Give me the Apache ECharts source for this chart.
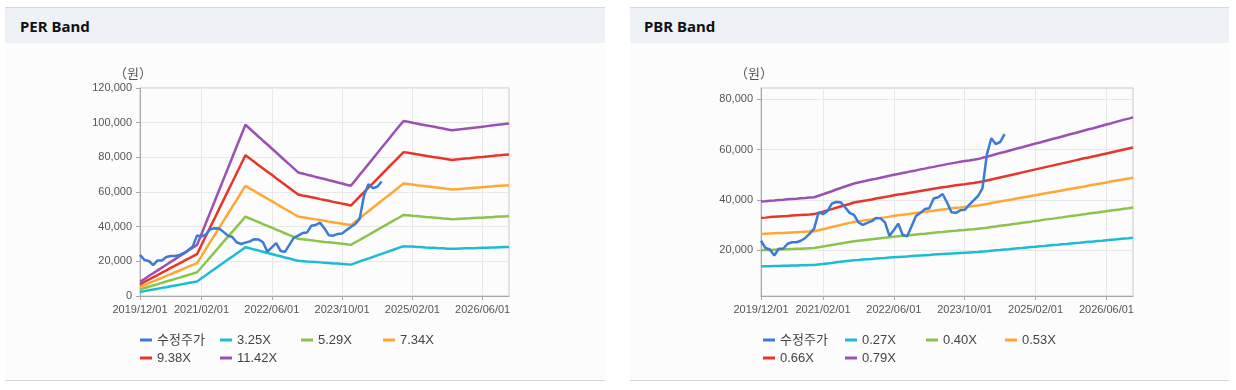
<!DOCTYPE html>
<html><head><meta charset="utf-8">
<script src="https://cdn.jsdelivr.net/npm/echarts@6/dist/echarts.min.js"></script>
<style>
html,body{margin:0;padding:0;background:#fff;width:1236px;height:390px;overflow:hidden}
.panel{position:absolute;top:7px;height:374px;box-sizing:border-box;border-top:1px solid #d6d6d6;border-bottom:1px solid #d6d6d6;background:#fcfcfc}
.hd{height:35px;background:#eef2f7;font-family:'Noto Sans',sans-serif;font-weight:bold;font-size:15px;line-height:36px;color:#111}
#c{position:absolute;left:0;top:0;width:1236px;height:390px}
</style></head>
<body>
<div class="panel" style="left:5px;width:600px"><div class="hd" style="padding-left:15px">PER Band</div></div>
<div class="panel" style="left:630px;width:599px"><div class="hd" style="padding-left:14px">PBR Band</div></div>
<div id="c"></div>
<script>
const categories = [
'2019/12/01',
'2020/01/01','2020/02/01','2020/03/01','2020/04/01','2020/05/01','2020/06/01','2020/07/01','2020/08/01','2020/09/01','2020/10/01','2020/11/01','2020/12/01',
'2021/01/01','2021/02/01','2021/03/01','2021/04/01','2021/05/01','2021/06/01','2021/07/01','2021/08/01','2021/09/01','2021/10/01','2021/11/01','2021/12/01',
'2022/01/01','2022/02/01','2022/03/01','2022/04/01','2022/05/01','2022/06/01','2022/07/01','2022/08/01','2022/09/01','2022/10/01','2022/11/01','2022/12/01',
'2023/01/01','2023/02/01','2023/03/01','2023/04/01','2023/05/01','2023/06/01','2023/07/01','2023/08/01','2023/09/01','2023/10/01','2023/11/01','2023/12/01',
'2024/01/01','2024/02/01','2024/03/01','2024/04/01','2024/05/01','2024/06/01','2024/07/01','2024/08/01','2024/09/01','2024/10/01','2024/11/01','2024/12/01',
'2025/01/01','2025/02/01','2025/03/01','2025/04/01','2025/05/01','2025/06/01','2025/07/01','2025/08/01','2025/09/01','2025/10/01','2025/11/01','2025/12/01',
'2026/01/01','2026/02/01','2026/03/01','2026/04/01','2026/05/01','2026/06/01','2026/07/01','2026/08/01','2026/09/01','2026/10/01','2026/11/01','2026/12/01'];
const tickLabels = ['2019/12/01','2021/02/01','2022/06/01','2023/10/01','2025/02/01','2026/06/01'];
const perTicks = [0,20000,40000,60000,80000,100000,120000];
const pbrTicks = [20000,40000,60000,80000];

const perNames = ['수정주가','3.25X','5.29X','7.34X','9.38X','11.42X'];
const pbrNames = ['수정주가','0.27X','0.40X','0.53X','0.66X','0.79X'];

const price = [23700,20800,20200,17800,20500,20500,22500,23100,23100,23700,
24800,26500,28500,35000,34300,35500,38500,39100,39000,37000,
34800,34000,31000,30000,30800,31500,32800,32600,31000,25600,
28000,30500,26000,25500,29500,33500,34800,36300,36600,40500,
41000,42300,39000,35000,34800,35800,36000,38000,39800,41500,
44500,58000,64500,62200,63000,66100];

const perCyan = [2300,2800,3300,3700,4200,4700,5100,5600,6100,6500,
7000,7500,7900,8400,10200,12000,13800,15600,17400,19200,
21000,22700,24500,26300,28100,27500,26800,26200,25500,24800,
24200,23500,22900,22200,21600,20900,20300,20100,19900,19800,
19600,19400,19200,19000,18800,18700,18500,18300,18100,19000,
19900,20800,21600,22500,23400,24300,25200,26100,27000,27900,
28700,28600,28500,28300,28200,28000,27900,27800,27600,27500,
27300,27200,27300,27400,27500,27500,27600,27700,27800,27900,
28000,28000,28100,28200,28300];
const perGreen = [3800,4600,5300,6100,6800,7600,8400,9100,9900,10600,
11400,12100,12900,13700,16600,19500,22400,25300,28300,31200,
34100,37000,39900,42800,45800,44700,43600,42600,41500,40500,
39400,38300,37300,36200,35100,34100,33000,32700,32400,32100,
31800,31500,31200,31000,30700,30400,30100,29800,29500,30900,
32300,33800,35200,36700,38100,39600,41000,42500,43900,45300,
46800,46600,46300,46100,45900,45600,45400,45200,45000,44700,
44500,44300,44400,44600,44700,44800,45000,45100,45200,45400,
45500,45700,45800,45900,46100];
const perOrange = [5300,6300,7400,8400,9500,10500,11600,12600,13700,14700,
15800,16900,17900,19000,23000,27100,31200,35200,39300,43300,
47300,51400,55400,59500,63500,62000,60600,59100,57600,56100,
54700,53200,51700,50200,48800,47300,45800,45400,45000,44600,
44200,43800,43400,42900,42500,42100,41700,41300,40900,42900,
44900,46900,48900,50900,52900,54900,56900,58900,60900,62900,
64900,64600,64300,63900,63600,63300,63000,62700,62400,62100,
61800,61400,61600,61800,62000,62200,62400,62600,62800,63000,
63200,63400,63600,63800,63900];
const perRed = [6700,8100,9400,10800,12100,13500,14800,16200,17500,18800,
20200,21500,22900,24200,29400,34600,39800,44900,50100,55300,
60500,65600,70800,76000,81200,79300,77400,75500,73600,71700,
69900,68000,66100,64200,62300,60400,58600,58000,57500,57000,
56500,55900,55400,54900,54300,53800,53300,52800,52200,54800,
57400,59900,62500,65000,67600,70200,72700,75300,77800,80400,
83000,82600,82200,81800,81300,80900,80500,80100,79700,79300,
78900,78500,78800,79000,79300,79500,79800,80000,80200,80500,
80700,81000,81200,81500,81700];
const perPurple = [8200,9800,11500,13100,14800,16400,18000,19700,21300,22900,
24600,26200,27900,29500,35800,42100,48400,54700,61000,67300,
73600,79900,86200,92500,98800,96500,94200,91900,89600,87400,
85100,82800,80500,78200,75900,73600,71300,70700,70000,69400,
68700,68100,67500,66800,66200,65500,64900,64200,63600,66700,
69900,73000,76100,79200,82400,85500,88600,91700,94900,98000,
101000,100500,100000,99500,99000,98500,98100,97600,97100,96600,
96100,95600,95900,96200,96500,96800,97100,97400,97700,98000,
98300,98600,98900,99200,99500];

const pbrCyan = [13400,13500,13500,13600,13600,13700,13700,13800,13800,13900,
13900,14000,14000,14200,14400,14600,14800,15100,15300,15500,
15700,15900,16000,16200,16300,16400,16600,16700,16800,17000,
17100,17200,17300,17400,17600,17700,17800,17900,18000,18200,
18300,18400,18500,18600,18700,18800,18900,19000,19100,19200,
19400,19500,19700,19900,20000,20200,20300,20500,20700,20800,
21000,21200,21300,21500,21600,21800,22000,22100,22300,22400,
22600,22800,22900,23100,23300,23400,23600,23700,23900,24100,
24200,24400,24600,24700,24900];
const pbrGreen = [19900,20000,20000,20100,20200,20300,20300,20400,20500,20500,
20600,20700,20800,21100,21400,21700,22000,22300,22600,22900,
23200,23500,23700,23900,24100,24300,24500,24700,24900,25100,
25300,25500,25700,25800,26000,26200,26400,26500,26700,26900,
27100,27200,27400,27600,27700,27900,28000,28200,28300,28500,
28700,28900,29200,29400,29700,29900,30100,30400,30600,30900,
31100,31300,31600,31800,32100,32300,32500,32800,33000,33300,
33500,33700,34000,34200,34500,34700,34900,35200,35400,35700,
35900,36100,36400,36600,36900];
const pbrOrange = [26400,26500,26600,26700,26800,26800,26900,27000,27100,27200,
27300,27400,27500,27900,28300,28700,29200,29600,30000,30400,
30800,31200,31500,31700,32000,32200,32500,32800,33000,33300,
33600,33800,34000,34200,34500,34700,34900,35200,35400,35600,
35900,36100,36300,36600,36800,36900,37100,37300,37500,37700,
38000,38300,38700,39000,39300,39600,39900,40200,40600,40900,
41200,41500,41800,42200,42500,42800,43100,43400,43700,44100,
44400,44700,45000,45300,45700,46000,46300,46600,46900,47300,
47600,47900,48200,48500,48800];
const pbrRed = [32800,32900,33100,33200,33300,33400,33500,33700,33800,33900,
34000,34100,34300,34800,35300,35800,36300,36800,37300,37800,
38300,38900,39200,39500,39800,40100,40500,40800,41100,41400,
41800,42100,42300,42600,42900,43200,43500,43800,44100,44400,
44700,45000,45200,45500,45800,46000,46200,46500,46700,47000,
47300,47700,48100,48500,48900,49300,49700,50100,50500,50900,
51300,51700,52100,52500,52900,53300,53700,54100,54500,54900,
55300,55700,56100,56500,56800,57200,57600,58000,58400,58800,
59200,59600,60000,60400,60800];
const pbrPurple = [39300,39400,39600,39700,39900,40000,40200,40300,40400,40600,
40700,40900,41000,41600,42200,42800,43400,44100,44700,45300,
45900,46500,46900,47300,47700,48100,48400,48800,49200,49600,
50000,50300,50700,51000,51400,51700,52100,52400,52800,53100,
53500,53800,54200,54500,54800,55100,55400,55600,55900,56200,
56700,57100,57600,58100,58600,59000,59500,60000,60500,60900,
61400,61900,62400,62800,63300,63800,64300,64700,65200,65700,
66200,66600,67100,67600,68100,68500,69000,69500,70000,70400,
70900,71400,71900,72300,72800];

const colors = ['#3a7bd5','#1cbdd4','#8cc34a','#ffa733','#e8352c','#9c50b2'];
const FONT = "'Liberation Sans', Arial, 'Noto Sans CJK KR', sans-serif";
const perSeriesData = [price, perCyan, perGreen, perOrange, perRed, perPurple];
const pbrSeriesData = [price, pbrCyan, pbrGreen, pbrOrange, pbrRed, pbrPurple];

const showTick = (i, v) => tickLabels.indexOf(categories[i]) >= 0;
const fmt = v => Number(v).toLocaleString('en-US');

function xAxis(gi){
  return {type:'category', gridIndex:gi, data:categories, boundaryGap:false,
    axisLine:{lineStyle:{color:'#a8a8a8'}},
    axisTick:{show:true, length:4, interval:showTick, lineStyle:{color:'#a8a8a8'}},
    axisLabel:{interval:showTick, color:'#555', fontSize:11, fontFamily:FONT, margin:8},
    splitLine:{show:true, interval:showTick, lineStyle:{color:'#e8e8e8'}}};
}
function yAxis(gi, extra){
  return Object.assign({type:'value', gridIndex:gi, name:'（원）', nameLocation:'end', nameGap:8,
    nameTextStyle:{color:'#555', fontSize:13, fontFamily:"'Noto Sans CJK KR', sans-serif", align:'center', padding:[0,14,0,0]},
    axisLine:{show:true, lineStyle:{color:'#a8a8a8'}},
    axisTick:{show:true, length:4, lineStyle:{color:'#a8a8a8'}},
    axisLabel:{color:'#555', fontSize:11, fontFamily:FONT, margin:8, formatter:fmt},
    splitLine:{show:true, lineStyle:{color:'#e8e8e8'}}}, extra);
}

const series = [];
perNames.forEach((n, k) => series.push({name:n, type:'line', xAxisIndex:0, yAxisIndex:0, data:perSeriesData[k],
  showSymbol:false, symbol:'none', lineStyle:{width:2.5, color:colors[k]}, itemStyle:{color:colors[k]}, z: k===0?5:2, silent:true, animation:false}));
pbrNames.forEach((n, k) => series.push({name:n, type:'line', xAxisIndex:1, yAxisIndex:1, data:pbrSeriesData[k],
  showSymbol:false, symbol:'none', lineStyle:{width:2.5, color:colors[k]}, itemStyle:{color:colors[k]}, z: k===0?5:2, silent:true, animation:false}));

const legendCols = [[140,220,301,383],[763,845,926,1005]];
const legendRows = [332,350];
const legends = [];
[perNames, pbrNames].forEach((names, c) => {
  names.forEach((n, k) => {
    const row = k < 4 ? 0 : 1, col = k < 4 ? k : k - 4;
    legends.push({data:[n], left:legendCols[c][col], top:legendRows[row], padding:0,
      icon:'rect', itemWidth:12, itemHeight:3, selectedMode:false,
      textStyle:{fontSize:13, color:'#444', fontFamily:FONT, lineHeight:16}});
  });
});

const chart = echarts.init(document.getElementById('c'), null, {width:1236, height:390});
chart.setOption({
  animation:false,
  backgroundColor:'transparent',
  grid:[
    {left:140, top:88, width:369, height:208, show:true, borderColor:'#c8c8c8', borderWidth:1, backgroundColor:'transparent'},
    {left:761, top:88, width:372, height:208, show:true, borderColor:'#c8c8c8', borderWidth:1, backgroundColor:'transparent'}
  ],
  xAxis:[xAxis(0), xAxis(1)],
  yAxis:[
    yAxis(0, {min:0, max:120000, interval:20000}),
    (function(){ const a = yAxis(1, {min:1700, max:84500});
      a.axisLabel.customValues = pbrTicks; a.axisTick.customValues = pbrTicks; return a; })()
  ],
  legend:legends,
  series:series
});
</script>
</body></html>
